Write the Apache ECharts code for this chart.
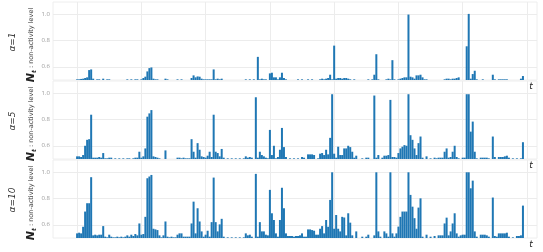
<!DOCTYPE html>
<html>
<head>
<meta charset="utf-8">
<script src="https://cdn.jsdelivr.net/npm/echarts@6/dist/echarts.min.js"></script>
<style>
  html, body { margin: 0; padding: 0; background: #fff; }
  #chart { width: 543px; height: 252px; }
</style>
</head>
<body>
<div id="chart"></div>
<script>
// [t, N_t], 0.5 is the floor
const alpha1 = [
  [0,0.505],[1,0.505],[2,0.508],[3,0.51],[4,0.515],[5,0.52],[6,0.575],[7,0.58],[8,0.51],
  [10,0.505],[11,0.505],[13,0.51],[15,0.505],[16,0.505],
  [25,0.505],[27,0.505],[29,0.505],[30,0.505],
  [32,0.505],[33,0.515],[34,0.525],[35,0.565],[36,0.59],[37,0.595],[38,0.51],[39,0.505],[40,0.505],
  [44,0.51],[45,0.505],[50,0.505],[52,0.505],
  [57,0.515],[58,0.535],[59,0.52],[60,0.527],[61,0.525],[62,0.51],[63,0.505],[64,0.505],[65,0.505],
  [66,0.505],[67,0.505],[68,0.58],[69,0.505],[70,0.51],[71,0.505],[72,0.51],
  [84,0.505],[86,0.505],[88,0.505],[90,0.675],[91,0.505],[92,0.51],[93,0.505],[94,0.505],
  [96,0.55],[97,0.555],[98,0.52],[99,0.52],[100,0.505],[101,0.52],[102,0.555],[103,0.515],[104,0.505],
  [110,0.505],[112,0.505],[115,0.505],[117,0.505],
  [121,0.505],[122,0.51],[123,0.505],[124,0.51],[125,0.515],[126,0.54],[127,0.505],[128,0.76],
  [129,0.51],[130,0.515],[131,0.515],[132,0.51],[133,0.515],[134,0.515],[135,0.51],[136,0.505],[138,0.505],
  [145,0.505],[147,0.505],[148,0.54],[149,0.695],[150,0.505],
  [154,0.505],[155,0.51],[156,0.505],[157,0.65],[158,0.505],
  [160,0.505],[161,0.51],[162,0.515],[163,0.52],[164,0.52],[165,0.995],[166,0.525],[167,0.52],
  [168,0.51],[169,0.535],[170,0.535],[171,0.54],[172,0.52],[173,0.505],[174,0.505],
  [183,0.505],[184,0.51],[185,0.51],[186,0.505],[187,0.51],[188,0.51],[189,0.515],[190,0.52],
  [194,0.755],[195,1.0],[196,0.51],[197,0.545],[198,0.57],[199,0.505],
  [202,0.505],[207,0.54],[208,0.505],
  [210,0.505],[211,0.505],[212,0.505],[213,0.505],[214,0.505],[221,0.51],[222,0.53]
]

const alpha5 = [
  [0,0.52],[1,0.52],[2,0.515],[3,0.53],[4,0.6],[5,0.645],[6,0.65],[7,0.835],[8,0.51],
  [9,0.51],[10,0.51],[11,0.515],[12,0.51],[13,0.545],[14,0.505],[15,0.505],[16,0.51],[17,0.51],
  [19,0.505],[21,0.505],[23,0.505],[25,0.505],[26,0.505],[28,0.505],[29,0.51],[30,0.51],
  [31,0.555],[32,0.51],[33,0.52],[34,0.58],[35,0.82],[36,0.845],[37,0.87],[38,0.52],[39,0.515],
  [40,0.51],[41,0.505],[44,0.565],
  [50,0.51],[51,0.51],[52,0.505],[53,0.51],[54,0.505],[55,0.505],[56,0.505],
  [57,0.65],[58,0.555],[59,0.51],[60,0.62],[61,0.57],[62,0.52],[63,0.515],[64,0.51],[65,0.525],
  [66,0.555],[67,0.515],[68,0.835],[69,0.555],[70,0.545],[71,0.52],[72,0.576],[73,0.51],
  [75,0.505],[77,0.505],[79,0.505],[81,0.505],[83,0.505],
  [84,0.52],[85,0.51],[86,0.515],[87,0.51],[89,0.967],[90,0.51],[91,0.555],[92,0.53],[93,0.52],
  [94,0.51],[95,0.505],[96,0.72],[97,0.53],[98,0.6],[99,0.505],[100,0.515],[101,0.57],[102,0.735],
  [103,0.59],[104,0.515],[106,0.505],[108,0.505],[110,0.505],
  [112,0.515],[113,0.51],[115,0.535],[116,0.535],[117,0.535],[118,0.53],[120,0.505],[121,0.54],
  [122,0.545],[123,0.53],[124,0.57],[125,0.535],[126,0.66],[127,0.99],[128,0.54],[129,0.51],
  [130,0.593],[131,0.53],[132,0.53],[133,0.58],[134,0.58],[135,0.6],[136,0.59],[137,0.555],
  [138,0.51],[139,0.525],[142,0.505],[144,0.51],[145,0.51],[148,0.98],[149,0.51],[150,0.53],
  [152,0.51],[153,0.525],[154,0.525],[155,0.53],[156,0.947],[157,0.515],[158,0.515],[159,0.51],
  [160,0.545],[161,0.58],[162,0.593],[163,0.605],[164,0.6],[165,0.99],[166,0.68],[167,0.645],
  [168,0.58],[169,0.53],[170,0.62],[171,0.67],[172,0.51],[174,0.52],
  [176,0.505],[178,0.51],[179,0.505],[180,0.51],[181,0.51],[182,0.51],[183,0.555],[184,0.58],
  [185,0.51],[186,0.515],[187,0.555],[188,0.6],[189,0.515],[190,0.505],[192,0.51],[193,0.51],
  [194,0.99],[195,0.99],[196,0.707],[197,0.783],[198,0.555],[199,0.505],
  [201,0.51],[202,0.51],[203,0.51],[204,0.51],[205,0.505],[207,0.67],[208,0.515],
  [210,0.515],[211,0.515],[212,0.515],[213,0.52],[214,0.525],[215,0.51],
  [217,0.505],[219,0.505],[221,0.505],[222,0.627]
]

const alpha10 = [
  [0,0.535],[1,0.54],[2,0.535],[3,0.585],[4,0.7],[5,0.763],[6,0.763],[7,0.96],[8,0.52],
  [9,0.525],[10,0.52],[11,0.525],[12,0.525],[13,0.59],[14,0.51],[15,0.505],[16,0.525],[17,0.51],
  [18,0.505],[19,0.505],[20,0.51],[21,0.505],[22,0.51],[23,0.505],[24,0.51],[25,0.52],[26,0.51],
  [27,0.525],[28,0.515],[29,0.53],[30,0.52],
  [31,0.61],[32,0.525],[33,0.53],[34,0.66],[35,0.952],[36,0.965],[37,0.977],[38,0.57],[39,0.565],
  [40,0.56],[41,0.52],[42,0.505],[43,0.52],[44,0.625],[45,0.51],
  [46,0.505],[47,0.51],[48,0.505],[49,0.505],[50,0.525],[51,0.535],[52,0.535],[53,0.51],
  [54,0.51],[55,0.51],[56,0.51],
  [57,0.61],[58,0.775],[59,0.535],[60,0.725],[61,0.625],[62,0.55],[63,0.51],[64,0.525],[65,0.555],
  [66,0.51],[67,0.62],[68,0.957],[69,0.62],[70,0.55],[71,0.603],[72,0.645],[73,0.51],
  [75,0.505],[77,0.505],[79,0.505],[81,0.505],[83,0.505],
  [84,0.535],[85,0.52],[86,0.525],[87,0.51],[89,0.985],[90,0.51],[91,0.62],[92,0.55],[93,0.55],
  [94,0.525],[95,0.52],[96,0.864],[97,0.687],[98,0.636],[99,0.535],[100,0.51],[101,0.636],
  [102,0.88],[103,0.725],[104,0.535],
  [105,0.515],[106,0.515],[107,0.515],[108,0.51],[109,0.515],[110,0.515],[111,0.52],
  [112,0.535],[113,0.51],[114,0.51],[115,0.565],[116,0.565],[117,0.56],[118,0.555],[119,0.525],
  [120,0.525],[121,0.57],[122,0.59],[123,0.535],[124,0.636],[125,0.585],[126,0.788],[127,0.997],
  [128,0.57],[129,0.674],[130,0.57],[131,0.55],[132,0.66],[133,0.655],[134,0.52],[135,0.687],
  [136,0.616],[137,0.52],[139,0.55],
  [142,0.51],[144,0.51],[145,0.525],[148,0.52],[149,0.997],[150,0.55],[151,0.51],[153,0.55],
  [154,0.535],[155,0.51],[156,0.997],[157,0.535],[158,0.51],[159,0.535],[160,0.586],[161,0.66],
  [162,0.7],[163,0.7],[164,0.7],[165,0.997],[166,0.826],[167,0.737],[168,0.65],[169,0.57],
  [170,0.73],[171,0.8],[172,0.51],[174,0.525],
  [176,0.51],[178,0.515],[180,0.52],[181,0.52],[182,0.52],[183,0.61],[184,0.654],[185,0.52],
  [186,0.55],[187,0.61],[188,0.687],[189,0.535],[190,0.51],[191,0.52],[192,0.525],[193,0.525],
  [194,0.997],[195,0.997],[196,0.876],[197,0.934],[198,0.55],[199,0.51],
  [201,0.525],[202,0.525],[203,0.525],[204,0.52],[205,0.51],[207,0.806],[208,0.515],[209,0.51],
  [210,0.535],[211,0.535],[212,0.535],[213,0.535],[214,0.54],[215,0.51],
  [217,0.505],[219,0.515],[220,0.515],[221,0.52],[222,0.745]
]

const panelData = [alpha1, alpha5, alpha10]
const panelNames = ['α=1', 'α=5', 'α=10']
const yTicks = [0.6, 0.8, 1.0]
const tTicks = [0, 32, 64, 96, 128, 160, 192, 224]

const chart = echarts.init(document.getElementById('chart'), null, { renderer: 'canvas' })

const tops = [2, 81, 160]
const panelH = 78
const gridLeft = 53
const gridRight = 6
const barColor = '#1f77b4'
const gridColor = '#ececec'

const grid = tops.map(top => ({
  left: gridLeft, right: gridRight, top: top, height: panelH,
  show: true, borderColor: '#eeeeee', borderWidth: 1
}))

const xAxis = tops.map((_, i) => ({
  type: 'value', gridIndex: i, min: -12, max: 229,
  axisLine: { show: false },
  axisTick: { show: false, customValues: tTicks },
  axisLabel: { show: false, customValues: tTicks },
  splitLine: { show: true, lineStyle: { color: gridColor, width: 1 } }
}))

const yAxis = tops.map((_, i) => ({
  type: 'value', gridIndex: i, min: 0.5, max: 1.09,
  axisLine: { show: false },
  axisTick: { show: false, customValues: yTicks },
  axisLabel: {
    customValues: yTicks, fontSize: 6, color: '#9a9a9a', margin: 3,
    fontFamily: 'Open Sans', formatter: v => v.toFixed(1)
  },
  splitLine: { show: true, lineStyle: { color: gridColor, width: 1 } }
}))

const series = panelData.map((data, i) => ({
  type: 'bar', xAxisIndex: i, yAxisIndex: i, data: data,
  barWidth: 2, itemStyle: { color: barColor }, silent: true
}))

const graphic = []
tops.forEach((top, i) => {
  graphic.push({
    type: 'text', x: 13, y: top + 40, rotation: Math.PI / 2,
    style: {
      text: panelNames[i], fill: '#333', font: 'italic 9px "DejaVu Sans"',
      align: 'center', verticalAlign: 'middle'
    }
  })
  graphic.push({
    type: 'text', x: 31, y: top + 43, rotation: Math.PI / 2,
    style: {
      text: '{n|N}{s|t}{l| : non-activity level}',
      align: 'center', verticalAlign: 'middle',
      rich: {
        n: { font: 'italic bold 11px "DejaVu Sans"', fill: '#222' },
        s: { font: 'italic bold 6px "DejaVu Sans"', fill: '#222', padding: [6, 0, 0, 0] },
        l: { font: '6.5px "DejaVu Sans"', fill: '#444' }
      }
    }
  })
  graphic.push({
    type: 'text', x: 531, y: top + panelH + 7,
    style: {
      text: 't', fill: '#222', font: 'italic 9px "DejaVu Sans"',
      align: 'center', verticalAlign: 'middle'
    }
  })
})

chart.setOption({
  animation: false,
  backgroundColor: '#fff',
  grid, xAxis, yAxis, series, graphic
})
</script>
</body>
</html>
